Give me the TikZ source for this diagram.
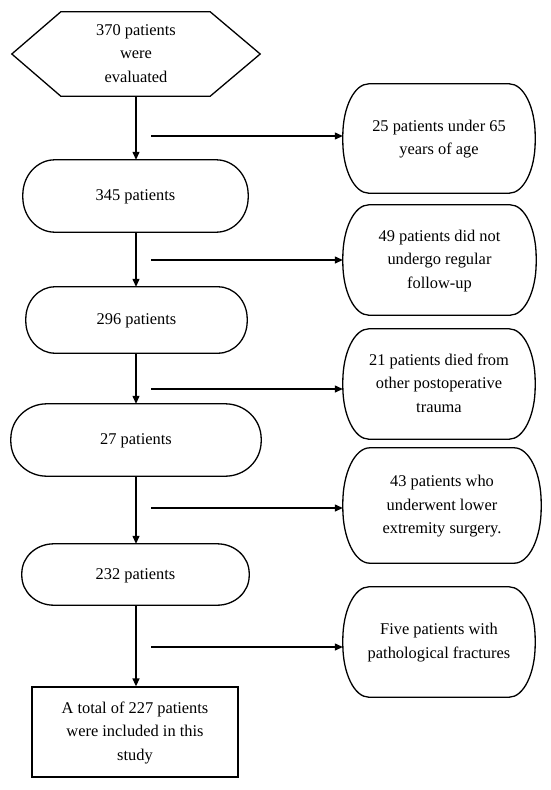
\documentclass[tikz,border=0pt]{standalone}
\usepackage{fontspec}
\setmainfont{Liberation Serif}
\usetikzlibrary{arrows.meta}
\newcommand\mytxt[2]{\raisebox{#1pt}{\begin{tabular}{@{}c@{}}#2\end{tabular}}}
\begin{document}
\begin{tikzpicture}[x=1pt,y=-1pt,
  every node/.style={font=\fontsize{16.4}{23.5}\selectfont},
  holder/.style={draw=none,inner sep=0pt,shape=rectangle},
  outline/.style={line width=1.3pt,black},
  arr/.style={line width=1.3pt,-{Triangle[length=8pt,width=7pt]}}]
\useasboundingbox[fill=white] (0,0) rectangle (550,790);

% left column
\node[holder,minimum width=248pt,minimum height=84pt] (hex) at (136,54)
  {\mytxt{0}{370 patients\\were\\evaluated}};
\node[holder,minimum width=225pt,minimum height=72pt] (b345) at (135.5,196)
  {\mytxt{6}{345 patients}};
\node[holder,minimum width=221pt,minimum height=66pt] (b296) at (136.5,320)
  {\mytxt{4}{296 patients}};
\node[holder,minimum width=250pt,minimum height=72pt] (b27) at (136,440)
  {\mytxt{5.5}{27 patients}};
\node[holder,minimum width=227pt,minimum height=61pt] (b232) at (135.5,574.5)
  {\mytxt{1}{232 patients}};
\node[holder,draw,line width=1.3pt,minimum width=206pt,minimum height=90pt] (fin) at (135,732)
  {\mytxt{3}{A total of 227 patients\\were included in this\\study}};

% right column
\node[holder,minimum width=192pt,minimum height=109pt] (r1) at (439,138.5)
  {\mytxt{8.5}{25 patients under 65\\years of age}};
\node[holder,minimum width=193pt,minimum height=110pt] (r2) at (439.5,260)
  {\mytxt{-3.5}{49 patients did not\\undergo regular\\follow-up}};
\node[holder,minimum width=192pt,minimum height=110pt] (r3) at (439,384)
  {\mytxt{-5}{21 patients died from\\other postoperative\\trauma}};
\node[holder,minimum width=198pt,minimum height=115pt] (r4) at (442,505.5)
  {\mytxt{-2.5}{43 patients who\\underwent lower\\extremity surgery.}};
\node[holder,minimum width=192pt,minimum height=110pt] (r5) at (439,642)
  {\mytxt{7}{Five patients with\\pathological fractures}};

% hexagon outline
\draw[outline] (hex.west) -- ([xshift=49pt]hex.north west) -- ([xshift=-50pt]hex.north east)
  -- (hex.east) -- ([xshift=-50pt]hex.south east) -- ([xshift=49pt]hex.south west) -- cycle;

% rounded outlines with elliptical corners
\foreach \n/\rx/\ry in {b345/32/35,b296/29/32,b27/36/35,b232/32/29.5,r1/26/52,r2/26/53,r3/26/53,r4/27/55.5,r5/26/53}{
  \draw[outline] ([xshift=\rx pt]\n.north west) -- ([xshift=-\rx pt]\n.north east)
    arc[start angle=90,end angle=0,x radius=\rx pt,y radius=\ry pt]
    -- ([yshift=\ry pt]\n.south east)
    arc[start angle=0,end angle=-90,x radius=\rx pt,y radius=\ry pt]
    -- ([xshift=\rx pt]\n.south west)
    arc[start angle=270,end angle=180,x radius=\rx pt,y radius=\ry pt]
    -- ([yshift=-\ry pt]\n.north west)
    arc[start angle=180,end angle=90,x radius=\rx pt,y radius=\ry pt] -- cycle;
}

% vertical arrows
\draw[arr] (hex.south) -- (hex.south |- b345.north);
\draw[arr] (b345.south -| hex.south) -- (hex.south |- b296.north);
\draw[arr] (b296.south -| hex.south) -- (hex.south |- b27.north);
\draw[arr] (b27.south -| hex.south) -- (hex.south |- b232.north);
\draw[arr] (b232.south -| hex.south) -- (hex.south |- fin.north);

% horizontal arrows
\coordinate (h1) at (151,136);
\coordinate (h2) at (151,260);
\coordinate (h3) at (151,389);
\coordinate (h4) at (151,508);
\coordinate (h5) at (151,647);
\draw[arr] (h1) -- (h1 -| r1.west);
\draw[arr] (h2) -- (h2 -| r2.west);
\draw[arr] (h3) -- (h3 -| r3.west);
\draw[arr] (h4) -- (h4 -| r4.west);
\draw[arr] (h5) -- (h5 -| r5.west);
\end{tikzpicture}
\end{document}
